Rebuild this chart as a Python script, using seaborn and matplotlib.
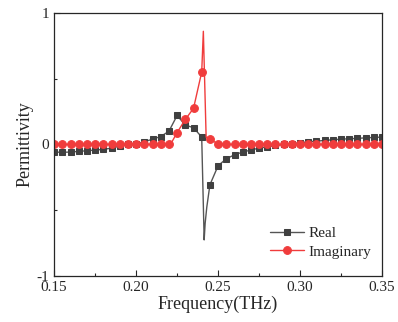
import numpy as np
import pandas as pd
import matplotlib
matplotlib.use("Agg")
import matplotlib.pyplot as plt
import seaborn as sns

# sampled points (markers), 0.15 .. 0.35 step 0.005
freq = [0.150, 0.155, 0.160, 0.165, 0.170, 0.175, 0.180, 0.185, 0.190, 0.195,
        0.200, 0.205, 0.210, 0.215, 0.220, 0.225, 0.230, 0.235, 0.240, 0.245,
        0.250, 0.255, 0.260, 0.265, 0.270, 0.275, 0.280, 0.285, 0.290, 0.295,
        0.300, 0.305, 0.310, 0.315, 0.320, 0.325, 0.330, 0.335, 0.340, 0.345, 0.350]
real = [-0.058, -0.060, -0.058, -0.053, -0.048, -0.043, -0.038, -0.028, -0.013, 0.000,
        0.003, 0.020, 0.040, 0.060, 0.100, 0.220, 0.147, 0.127, 0.056, -0.307,
        -0.162, -0.109, -0.079, -0.058, -0.043, -0.028, -0.018, -0.008, 0.000, 0.005,
        0.013, 0.020, 0.025, 0.030, 0.036, 0.040, 0.043, 0.046, 0.050, 0.053, 0.056]
imag = [0.0] * 15 + [0.090, 0.190, 0.274, 0.550, 0.038, 0.005] + [0.0] * 20

# extra points on the curves near the resonance (no markers)
real_extra_f = [0.2415, 0.2421, 0.2431]
real_extra_v = [-0.726, -0.600, -0.477]
imag_extra_f = [0.2215, 0.2410, 0.2427]
imag_extra_v = [0.012, 0.860, 0.055]


def with_extra(f, v, ef, ev):
    df = pd.DataFrame({"f": list(f) + list(ef), "v": list(v) + list(ev),
                       "m": [True] * len(f) + [False] * len(ef)})
    df = df.sort_values("f").reset_index(drop=True)
    return df, list(np.where(df["m"])[0])


df_r, mk_r = with_extra(freq, real, real_extra_f, real_extra_v)
df_i, mk_i = with_extra(freq, imag, imag_extra_f, imag_extra_v)

sns.set_style("ticks")
plt.rcParams["font.family"] = ["Liberation Serif", "DejaVu Serif"]

fig = plt.figure(figsize=(3.98, 3.22), dpi=100)
ax = fig.add_axes([0.136, 0.143, 0.824, 0.817])

sns.lineplot(data=df_r, x="f", y="v", ax=ax, color="#555555", lw=1.0,
             marker="s", markersize=4.8, markevery=mk_r,
             markerfacecolor="#404040", markeredgecolor="#404040",
             label="Real", sort=False, estimator=None)
sns.lineplot(data=df_i, x="f", y="v", ax=ax, color="#f03c3c", lw=1.0,
             marker="o", markersize=5.6, markevery=mk_i,
             markerfacecolor="#f03c3c", markeredgecolor="#f03c3c",
             label="Imaginary", sort=False, estimator=None)

ax.set_xlim(0.15, 0.35)
ax.set_ylim(-1, 1)
ax.set_xticks([0.15, 0.20, 0.25, 0.30, 0.35])
ax.set_xticklabels(["0.15", "0.20", "0.25", "0.30", "0.35"])
ax.set_xticks([0.175, 0.225, 0.275, 0.325], minor=True)
ax.set_yticks([-1, 0, 1])
ax.set_yticklabels(["-1", "0", "1"])
ax.set_yticks([-0.5, 0.5], minor=True)
ax.tick_params(which="both", direction="in", labelsize=11, width=0.8)
ax.tick_params(which="major", length=4)
ax.tick_params(which="minor", length=2.5)
for s in ax.spines.values():
    s.set_linewidth(0.9)
    s.set_visible(True)

ax.set_xlabel("Frequency(THz)", fontsize=13, labelpad=1)
ax.set_ylabel("Permittivity", fontsize=13, labelpad=2)

ax.legend(loc="lower right", bbox_to_anchor=(1.0, 0.025), frameon=False,
          fontsize=11, handlelength=2.2, borderaxespad=0.3,
          labelspacing=0.3, handletextpad=0.3)

fig.savefig("out.png", dpi=100)
